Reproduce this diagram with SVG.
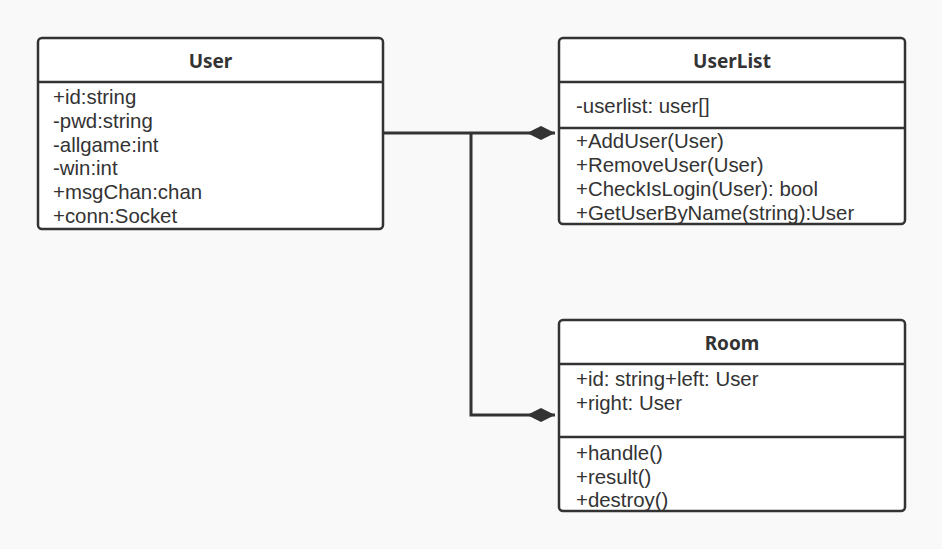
<svg xmlns="http://www.w3.org/2000/svg" width="942" height="549" viewBox="0 0 942 549">
<style>
.box{fill:#ffffff;stroke:#333333;stroke-width:2.5}
.sep{stroke:#333333;stroke-width:2.5}
.title{font-family:"Noto Sans","Open Sans",sans-serif;font-size:19px;font-weight:bold;fill:#333333;text-anchor:middle;dominant-baseline:central}
.t{font-family:"Liberation Sans",Arial,sans-serif;font-size:20.4px;fill:#333333;dominant-baseline:central}
.conn{fill:none;stroke:#333333;stroke-width:3}
</style>
<defs>
<marker id="diamond" markerWidth="30" markerHeight="16" refX="28" refY="8" orient="auto" markerUnits="userSpaceOnUse">
<path d="M0,8 L14,1 L28,8 L14,15 Z" fill="#333333"/>
</marker>
</defs>
<rect x="0" y="0" width="942" height="549" fill="#f9f9f9"/>
<g id="connectors">
<path class="conn" d="M383,133 L555,133" marker-end="url(#diamond)"/>
<path class="conn" d="M471,133 L471,415 L555,415" marker-end="url(#diamond)"/>
</g>
<g id="User">
<rect class="box" x="38" y="38" width="345" height="191" rx="4"/>
<line class="sep" x1="38" y1="82" x2="383" y2="82"/>
<text class="title" x="210.5" y="61">User</text>
<text class="t" x="53" y="97">+id:string</text>
<text class="t" x="53" y="120.8">-pwd:string</text>
<text class="t" x="53" y="144.6">-allgame:int</text>
<text class="t" x="53" y="168.4">-win:int</text>
<text class="t" x="53" y="192.2">+msgChan:chan</text>
<text class="t" x="53" y="216">+conn:Socket</text>
</g>
<g id="UserList">
<rect class="box" x="559" y="38" width="346" height="186" rx="4"/>
<line class="sep" x1="559" y1="82" x2="905" y2="82"/>
<line class="sep" x1="559" y1="128" x2="905" y2="128"/>
<text class="title" x="732" y="61">UserList</text>
<text class="t" x="576" y="106">-userlist: user[]</text>
<text class="t" x="576" y="141">+AddUser(User)</text>
<text class="t" x="576" y="165">+RemoveUser(User)</text>
<text class="t" x="576" y="189">+CheckIsLogin(User): bool</text>
<text class="t" x="576" y="213">+GetUserByName(string):User</text>
</g>
<g id="Room">
<rect class="box" x="559" y="320" width="346" height="191" rx="4"/>
<line class="sep" x1="559" y1="364" x2="905" y2="364"/>
<line class="sep" x1="559" y1="437" x2="905" y2="437"/>
<text class="title" x="732" y="343">Room</text>
<text class="t" x="576" y="379">+id: string+left: User</text>
<text class="t" x="576" y="403">+right: User</text>
<text class="t" x="576" y="453">+handle()</text>
<text class="t" x="576" y="476.7">+result()</text>
<text class="t" x="576" y="500.4">+destroy()</text>
</g>
</svg>
